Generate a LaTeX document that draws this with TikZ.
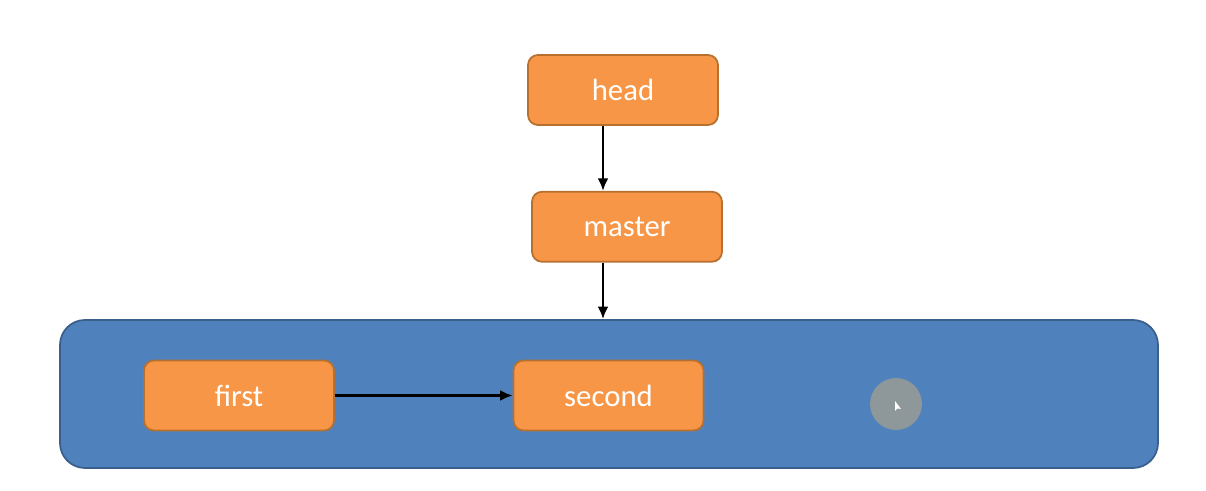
\documentclass[tikz,border=0pt]{standalone}
\usepackage{fontspec}
\setmainfont{Carlito}
\usetikzlibrary{arrows.meta,positioning}
\definecolor{boxfill}{HTML}{F79646}
\definecolor{boxline}{HTML}{B8702F}
\definecolor{poolfill}{HTML}{4F81BD}
\definecolor{poolline}{HTML}{3A5F8C}
\definecolor{pointer}{HTML}{8E979A}
\begin{document}
\begin{tikzpicture}[node distance=1.3cm,
  ref/.style={draw=boxline,fill=boxfill,line width=1pt,rounded corners=0.2cm,text=white,font=\fontsize{17.5}{20}\selectfont,minimum width=3.8cm,minimum height=1.4cm},
  pool/.style={draw=poolline,fill=poolfill,line width=1pt,rounded corners=0.5cm,minimum width=21.96cm,minimum height=2.96cm},
  >={Latex[length=2.5mm,width=2.2mm]}]
\useasboundingbox (0,0) rectangle (24.12,9.82);
\node[pool](commits) at (12.18,1.94){};
\node[ref](head) at (12.46,8.02){head};
\node[ref,below=1.3cm of head,xshift=0.08cm](master){master};
\node[ref](first) at (4.78,1.91){first};
\node[ref](second) at (12.17,1.91){second};
\node[circle,fill=pointer,minimum size=1.04cm,inner sep=0pt](mouse) at (17.92,1.74){};
\coordinate (mid) at (12.06,0);
\fill[white] ([xshift=-0.02cm,yshift=0.06cm]mouse.center) -- ++(0,-0.2) -- ++(0.05,0.05) -- ++(0.07,-0.01) -- cycle;
\draw[->,line width=1.5pt](head.south -| mid)--(master.north -| mid);
\draw[->,line width=1.5pt](master.south -| mid)--(commits.north -| mid);
\draw[->,line width=1.5pt](first)--(second);
\end{tikzpicture}
\end{document}
